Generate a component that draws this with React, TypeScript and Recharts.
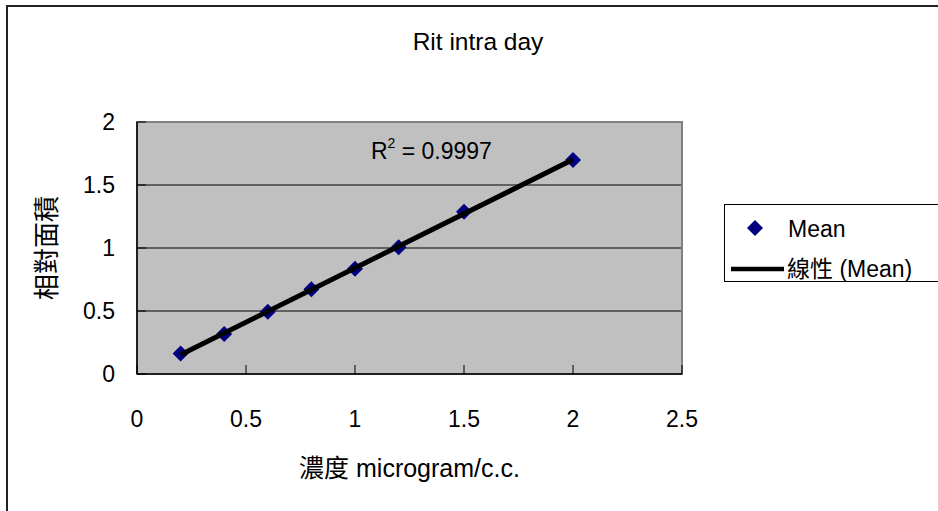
import React from "react";
import {
  ScatterChart,
  Scatter,
  XAxis,
  YAxis,
  CartesianGrid,
  ReferenceArea,
  ReferenceDot,
  Legend,
  Label,
} from "recharts";

const concentration = [0.2, 0.4, 0.6, 0.8, 1.0, 1.2, 1.5, 2.0];
const meanArea = [0.163, 0.317, 0.494, 0.673, 0.835, 1.005, 1.287, 1.699];
const xTicks = [0, 0.5, 1, 1.5, 2, 2.5];
const yTicks = [0, 0.5, 1, 1.5, 2];
const rSquared = "0.9997";

const FONT = "'Liberation Sans', Arial, 'Noto Sans CJK TC', sans-serif";

const meanData = concentration.map((x, i) => ({ x, y: meanArea[i] }));

// least squares line, like Excel's linear trendline
function linearFit(xs: number[], ys: number[]) {
  const n = xs.length;
  const mx = xs.reduce((a, b) => a + b, 0) / n;
  const my = ys.reduce((a, b) => a + b, 0) / n;
  let sxy = 0;
  let sxx = 0;
  xs.forEach((x, i) => {
    sxy += (x - mx) * (ys[i] - my);
    sxx += (x - mx) * (x - mx);
  });
  const slope = sxy / sxx;
  return { slope, intercept: my - slope * mx };
}

const fit = linearFit(concentration, meanArea);
const xMin = Math.min(...concentration);
const xMax = Math.max(...concentration);
const trendData = [xMin, xMax].map((x) => ({ x, y: fit.intercept + fit.slope * x }));

const Diamond = (props: any) => {
  const { cx, cy } = props;
  const r = 8;
  return (
    <polygon
      points={`${cx},${cy - r} ${cx + r},${cy} ${cx},${cy + r} ${cx - r},${cy}`}
      fill="#000080"
    />
  );
};

const YTick = (props: any) => {
  const { x, y, payload } = props;
  return (
    <g>
      <line x1={x} x2={x + 9} y1={y} y2={y} stroke="#000" />
      <text x={x - 22} y={y} dy="0.36em" textAnchor="end" fontSize={23} fontFamily={FONT} fill="#000">
        {payload.value}
      </text>
    </g>
  );
};

const XTick = (props: any) => {
  const { x, y, payload } = props;
  return (
    <g>
      <line x1={x} x2={x} y1={y} y2={y - 9} stroke="#000" />
      <text x={x} y={y + 53} textAnchor="middle" fontSize={23} fontFamily={FONT} fill="#000">
        {payload.value}
      </text>
    </g>
  );
};

const renderLegend = () => (
  <div
    style={{
      width: 230,
      height: 78,
      border: "1px solid #000",
      background: "#fff",
      boxSizing: "border-box",
    }}
  >
    <svg width={230} height={78} style={{ display: "block", marginLeft: -1, marginTop: -1 }}>
      <polygon points="31,16 39,24 31,32 23,24" fill="#000080" />
      <text x={64} y={33} fontSize={23} fontFamily={FONT} fill="#000">
        Mean
      </text>
      <line x1={7} x2={60} y1={65} y2={65} stroke="#000" strokeWidth={4.5} />
      <text x={63} y={73} fontSize={23} fontFamily={FONT} fill="#000">
        線性 (Mean)
      </text>
    </svg>
  </div>
);

const RSquaredLabel = (props: any) => {
  const { cx, cy } = props;
  return (
    <text x={cx} y={cy} fontSize={23} fontFamily={FONT} fill="#000">
      R
      <tspan dy={-11} fontSize={14}>
        2
      </tspan>
      <tspan dy={11}>{` = ${rSquared}`}</tspan>
    </text>
  );
};

export default function App() {
  return (
    <div
      style={{
        position: "absolute",
        left: 0,
        top: 0,
        width: 938,
        height: 511,
        overflow: "hidden",
        background: "#fff",
      }}
    >
      <div
        style={{
          position: "absolute",
          left: 6,
          top: 5,
          width: 1100,
          height: 700,
          borderLeft: "2px solid #222",
          borderTop: "2px solid #222",
        }}
      />
      <div
        style={{
          position: "absolute",
          left: 0,
          width: 956,
          top: 30,
          textAlign: "center",
          fontSize: 24.5,
          lineHeight: "24.5px",
          fontFamily: FONT,
          color: "#000",
        }}
      >
        Rit intra day
      </div>
      <div style={{ position: "absolute", left: 0, top: 0 }}>
        <ScatterChart width={938} height={511} margin={{ top: 122, right: 256, bottom: 0, left: 0 }}>
          <CartesianGrid vertical={false} stroke="#000" fill="#c0c0c0" fillOpacity={1} />
          <ReferenceArea x1={0} x2={2.5} y1={0} y2={2} fill="none" stroke="#808080" strokeWidth={2} />
          <XAxis
            type="number"
            dataKey="x"
            domain={[0, 2.5]}
            ticks={xTicks}
            height={137}
            tickSize={0}
            tickMargin={0}
            tick={<XTick />}
            tickLine={false}
            axisLine={{ stroke: "#000", strokeWidth: 1.5 }}
          >
            <Label
              content={(p: any) => {
                const vb = p.viewBox;
                return (
                  <text
                    x={vb.x + vb.width / 2}
                    y={vb.y + 103}
                    textAnchor="middle"
                    fontSize={25}
                    fontFamily={FONT}
                    fill="#000"
                  >
                    濃度 microgram/c.c.
                  </text>
                );
              }}
            />
          </XAxis>
          <YAxis
            type="number"
            dataKey="y"
            domain={[0, 2]}
            ticks={yTicks}
            width={137}
            tickSize={0}
            tickMargin={0}
            tick={<YTick />}
            tickLine={false}
            axisLine={{ stroke: "#000", strokeWidth: 1.5 }}
          >
            <Label
              content={(p: any) => {
                const vb = p.viewBox;
                const cx = vb.x + 46;
                const cy = vb.y + vb.height / 2;
                return (
                  <text
                    x={cx}
                    y={cy}
                    dy="0.38em"
                    textAnchor="middle"
                    fontSize={26}
                    fontFamily={FONT}
                    fill="#000"
                    transform={`rotate(-90 ${cx} ${cy})`}
                  >
                    相對面積
                  </text>
                );
              }}
            />
          </YAxis>
          <ReferenceDot x={1.073} y={1.704} r={0} ifOverflow="visible" shape={RSquaredLabel} />
          <Scatter name="Mean" data={meanData} shape={Diamond} isAnimationActive={false} />
          <Scatter
            name="線性 (Mean)"
            data={trendData}
            line={{ stroke: "#000", strokeWidth: 5 }}
            shape={() => <g />}
            isAnimationActive={false}
          />
          <Legend
            layout="vertical"
            align="center"
            verticalAlign="middle"
            content={renderLegend}
            wrapperStyle={{ left: 724, top: 204, width: 230, height: 78 }}
          />
        </ScatterChart>
      </div>
    </div>
  );
}
